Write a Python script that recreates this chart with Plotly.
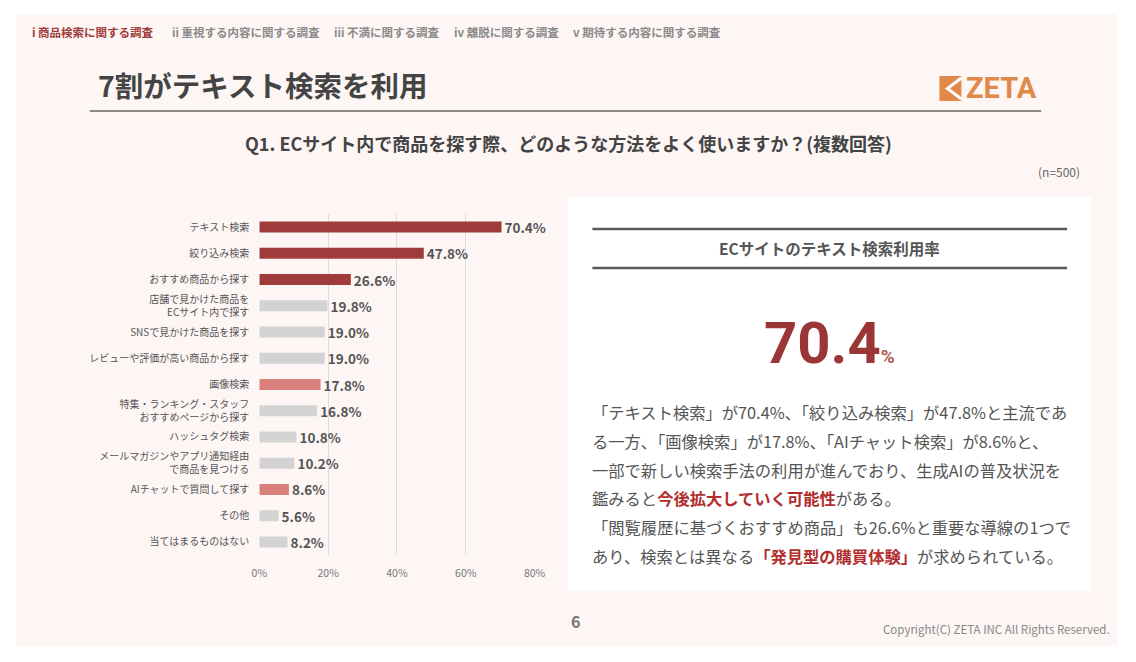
import plotly.graph_objects as go

W, H = 1136, 662

categories = [
    "テキスト検索",
    "絞り込み検索",
    "おすすめ商品から探す",
    "店舗で見かけた商品を<br>ECサイト内で探す",
    "SNSで見かけた商品を探す",
    "レビューや評価が高い商品から探す",
    "画像検索",
    "特集・ランキング・スタッフ<br>おすすめページから探す",
    "ハッシュタグ検索",
    "メールマガジンやアプリ通知経由<br>で商品を見つける",
    "AIチャットで質問して探す",
    "その他",
    "当てはまるものはない",
]
values = [70.4, 47.8, 26.6, 19.8, 19.0, 19.0, 17.8, 16.8, 10.8, 10.2, 8.6, 5.6, 8.2]
groups = ["main", "main", "main", "other", "other", "other", "new", "other", "other", "other", "new", "other", "other"]
x_ticks = [0, 20, 40, 60, 80]
x_tick_labels = ["0%", "20%", "40%", "60%", "80%"]

nav_items = ["i 商品検索に関する調査", "ii 重視する内容に関する調査", "iii 不満に関する調査",
             "iv 離脱に関する調査", "v 期待する内容に関する調査"]

DARK = "#a03b3b"
PINK = "#d9807c"
GRAY = "#d3d3d3"
color_map = {"main": DARK, "new": PINK, "other": GRAY}
TEXT = "#555555"
FONT = "Noto Sans CJK JP"

# mapping from target-picture pixels to paper coordinates (compensates page offset)
SX = 0.986
OX = 14
OY = 7


def px(x):
    return ((x - OX) / SX) / W


def py(y):
    return 1 - (y - OY) / H


fig = go.Figure()
fig.add_trace(go.Bar(
    y=categories,
    x=values,
    orientation="h",
    marker=dict(color=[color_map[g] for g in groups], line=dict(width=0)),
    width=0.42,
    text=[f"{v:.1f}%" for v in values],
    textposition="outside",
    constraintext="none",
    cliponaxis=False,
    textfont=dict(family=FONT, size=13.5, color=TEXT, weight="bold"),
    hoverinfo="skip",
))

shapes = []
shapes.append(dict(type="rect", xref="paper", yref="paper", x0=px(14), x1=px(1118), y0=py(645), y1=py(13),
                   fillcolor="#fdf6f5", line=dict(width=0), layer="below"))
shapes.append(dict(type="rect", xref="paper", yref="paper", x0=px(567), x1=px(1092), y0=py(590), y1=py(196),
                   fillcolor="#ffffff", line=dict(width=0), layer="below"))
shapes.append(dict(type="line", xref="paper", yref="paper", x0=px(88), x1=px(1042), y0=py(110), y1=py(110),
                   line=dict(color="#8a8a8a", width=2)))
for yy in (228, 267):
    shapes.append(dict(type="line", xref="paper", yref="paper", x0=px(592), x1=px(1068), y0=py(yy), y1=py(yy),
                       line=dict(color="#5a5a5a", width=2.5)))
shapes.append(dict(type="rect", xref="paper", yref="paper", x0=px(940), x1=px(962), y0=py(100), y1=py(75),
                   fillcolor="#e0894a", line=dict(width=0)))
shapes.append(dict(type="path", xref="paper", yref="paper",
                   path=f"M {px(962)} {py(77)} L {px(948)} {py(87.5)} L {px(962)} {py(98)}",
                   line=dict(color="#ffffff", width=3)))

annotations = []


def add_text(x, y, text, size, color=TEXT, bold=False, xanchor="left", family=FONT):
    annotations.append(dict(xref="paper", yref="paper", x=px(x), y=py(y), text=text, showarrow=False,
                            xanchor=xanchor, yanchor="middle",
                            font=dict(family=family, size=size, color=color, weight="bold" if bold else "normal")))


nav_x = [28, 168, 331, 451, 571]
for i, (nx, t) in enumerate(zip(nav_x, nav_items)):
    add_text(nx, 31, t, 11.5, color="#a03b3b" if i == 0 else "#8a8a8a", bold=True)

add_text(94, 83, "7割がテキスト検索を利用", 28.5, color="#444444", bold=True)
add_text(965, 87, "ZETA", 29, color="#e0894a", bold=True, family="Roboto")
add_text(568, 142, "Q1. ECサイト内で商品を探す際、どのような方法をよく使いますか？(複数回答)", 18,
         color="#444444", bold=True, xanchor="center")
add_text(1083, 170, "(n=500)", 12, color="#666666", xanchor="right")

add_text(830, 247, "ECサイトのテキスト検索利用率", 15.5, color="#555555", bold=True, xanchor="center")
annotations.append(dict(xref="paper", yref="paper", x=px(830), y=py(342),
                        text="70.4<span style='font-size:19px;color:#b35a5a'>%</span>",
                        showarrow=False, xanchor="center", yanchor="middle",
                        font=dict(family="Roboto", size=58, color="#9a3636", weight="bold")))

RED = "#b02e2e"
para = [
    "「テキスト検索」が70.4%、「絞り込み検索」が47.8%と主流であ",
    "る一方、「画像検索」が17.8%、「AIチャット検索」が8.6%と、",
    "一部で新しい検索手法の利用が進んでおり、生成AIの普及状況を",
    f"鑑みると<b><span style='color:{RED}'>今後拡大していく可能性</span></b>がある。",
    "「閲覧履歴に基づくおすすめ商品」も26.6%と重要な導線の1つで",
    f"あり、検索とは異なる<b><span style='color:{RED}'>「発見型の購買体験」</span></b>が求められている。",
]
para_y = [411, 440, 469, 497, 526, 555]
for t, yy in zip(para, para_y):
    add_text(590, yy, t, 16.3, color="#555555")

add_text(575, 620, "6", 16, color="#777777", bold=True, xanchor="center")
add_text(1113, 628, "Copyright(C) ZETA INC All Rights Reserved.", 11.5, color="#888888", xanchor="right")

fig.update_layout(
    width=W, height=H,
    margin=dict(l=0, r=0, t=0, b=0),
    paper_bgcolor="#ffffff",
    plot_bgcolor="rgba(0,0,0,0)",
    showlegend=False,
    shapes=shapes,
    annotations=annotations,
    xaxis=dict(domain=[px(258), px(534)], range=[0, 80], tickvals=x_ticks, ticktext=x_tick_labels,
               showgrid=True, gridcolor="#dddddd", gridwidth=1, zeroline=False, showline=False,
               tickfont=dict(family=FONT, size=10.5, color="#777777"), ticks="", ticklabelstandoff=10,
               fixedrange=True),
    yaxis=dict(domain=[py(554), py(213)], autorange="reversed", showgrid=False, zeroline=False,
               showline=False, ticks="", ticklabelstandoff=9,
               tickfont=dict(family=FONT, size=10, color="#555555"), fixedrange=True),
)

fig.write_html("out.html")
